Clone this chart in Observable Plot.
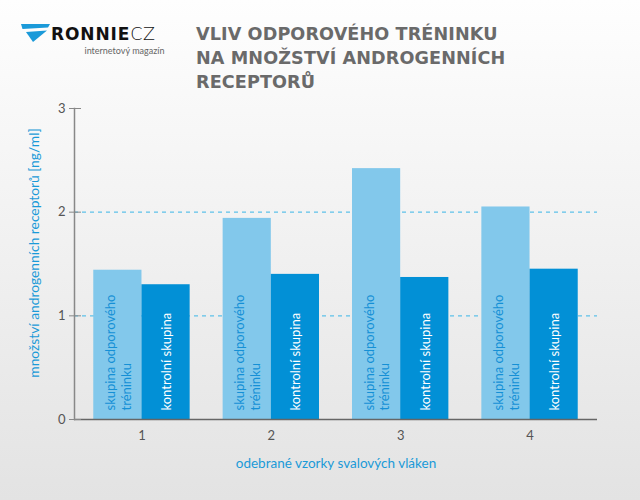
<!DOCTYPE html>
<html>
<head>
<meta charset="utf-8">
<script src="https://cdn.jsdelivr.net/npm/d3@7"></script>
<script src="https://cdn.jsdelivr.net/npm/@observablehq/plot@0.6"></script>
<style>
  body { margin: 0; }
  #page { position: relative; width: 640px; height: 500px; overflow: hidden;
          background: linear-gradient(#fefefe, #e3e3e3); font-family: Lato, "Open Sans", sans-serif; }
  #logo { position: absolute; left: 21px; top: 23px; }
  #logo .brand { position: absolute; left: 30px; top: 1px; font-size: 17px; line-height: 20px; white-space: nowrap; color: #111;
                 font-family: "DejaVu Sans", sans-serif; }
  #logo .brand b { font-weight: 700; letter-spacing: 0.9px; }
  #logo .brand span { font-weight: 200; letter-spacing: 0.5px; font-size: 17.5px; }
  #logo .sub { position: absolute; left: 63.5px; top: 22px; font-size: 9px; color: #666; white-space: nowrap; }
  #title { position: absolute; left: 196px; top: 22px; font-size: 17.6px; line-height: 24px; font-weight: 700;
           font-family: "DejaVu Sans", sans-serif; color: #6a6a6a; letter-spacing: 0.1px; }
  #chart { position: absolute; left: 0; top: 100px; }
</style>
</head>
<body>
<div id="page">
  <div id="logo">
    <svg width="29" height="18" viewBox="0 0 29 18" style="position:absolute;left:0;top:1px">
      <polygon points="0,0 29,0 27,3.5 1.5,5" fill="#1b9ad9"/>
      <polygon points="5,8 26,6.5 12,18" fill="#1b9ad9"/>
    </svg>
    <div class="brand"><b>RONNIE</b><span>CZ</span></div>
    <div class="sub">internetový magazín</div>
  </div>
  <div id="title">VLIV ODPOROVÉHO TRÉNINKU<br>NA MNOŽSTVÍ ANDROGENNÍCH<br>RECEPTORŮ</div>
  <div id="chart"></div>
</div>
<script>
// ---- data ----
const samples = ["1", "2", "3", "4"];
const seriesKeys = ["trained", "control"];
const seriesLabels = ["skupina odporového\ntréninku", "kontrolní skupina"];
const trainedValues = [1.44, 1.94, 2.42, 2.05];
const controlValues = [1.30, 1.40, 1.37, 1.45];
const yTicks = [0, 1, 2, 3];
const gridTicks = [1, 2];
const xTitle = "odebrané vzorky svalových vláken";
const yTitle = "množství androgenních receptorů [ng/ml]";

const trainedRows = samples.map((s, i) => ({sample: s, series: seriesKeys[0], label: seriesLabels[0], value: trainedValues[i]}));
const controlRows = samples.map((s, i) => ({sample: s, series: seriesKeys[1], label: seriesLabels[1], value: controlValues[i]}));

const W = 640, H = 380;
const margins = {marginTop: 8, marginBottom: 61, marginLeft: 74, marginRight: 43};
const xOptions = {type: "band", domain: samples, paddingInner: 0.255, paddingOuter: 0.149, round: false,
                  range: [margins.marginLeft, W - margins.marginRight]};
// ask Plot's own band scale for the group width, then split it between the two series
const half = Plot.scale({x: xOptions}).bandwidth / 2;

const blue = "#1a9ad8";
const chart = Plot.plot({
  width: W,
  height: H,
  ...margins,
  style: {background: "transparent", fontFamily: "Lato, 'Open Sans', sans-serif", fontSize: "13px", color: "#555"},
  x: {...xOptions, label: null, axis: null},
  y: {domain: [0, 3], axis: null},
  color: {domain: seriesKeys, range: ["#82c8eb", "#0290d6"]},
  marks: [
    Plot.ruleY(gridTicks, {stroke: "#5ec1e9", strokeWidth: 1.2, strokeDasharray: "4,4"}),
    Plot.barY(trainedRows, {x: "sample", y: "value", fill: "series", insetRight: half}),
    Plot.barY(controlRows, {x: "sample", y: "value", fill: "series", insetLeft: half}),
    Plot.text(trainedRows, {x: "sample", y: 0, text: "label", rotate: -90, textAnchor: "start",
      lineAnchor: "middle", lineHeight: 1.2, dy: -9, dx: -half / 2, fontSize: 13, fill: "#1590d6"}),
    Plot.text(controlRows, {x: "sample", y: 0, text: "label", rotate: -90, textAnchor: "start",
      lineAnchor: "middle", lineHeight: 1.2, dy: -9, dx: half / 2, fontSize: 13, fill: "#ffffff"}),
    Plot.ruleY([0], {stroke: "#666", strokeWidth: 1.5}),
    Plot.frame({anchor: "left", stroke: "#888", strokeWidth: 1.5}),
    Plot.axisY({ticks: yTicks, tickFormat: d3.format("d"), tickSize: 5, tickPadding: 4,
      stroke: "#888", fill: "#555", label: null}),
    Plot.axisY({ticks: yTicks, tickFormat: () => "", tickSize: -7, stroke: "#888", label: null}),
    Plot.axisX({tickSize: 0, tickPadding: 11, fill: "#555", label: null}),
    Plot.text([xTitle], {frameAnchor: "bottom", dy: 48, fill: blue, fontSize: 13.5}),
    Plot.text([yTitle], {frameAnchor: "left", textAnchor: "middle", rotate: -90, dx: -40, dy: -11, fill: blue, fontSize: 13.8})
  ]
});
document.getElementById("chart").appendChild(chart);
</script>
</body>
</html>
